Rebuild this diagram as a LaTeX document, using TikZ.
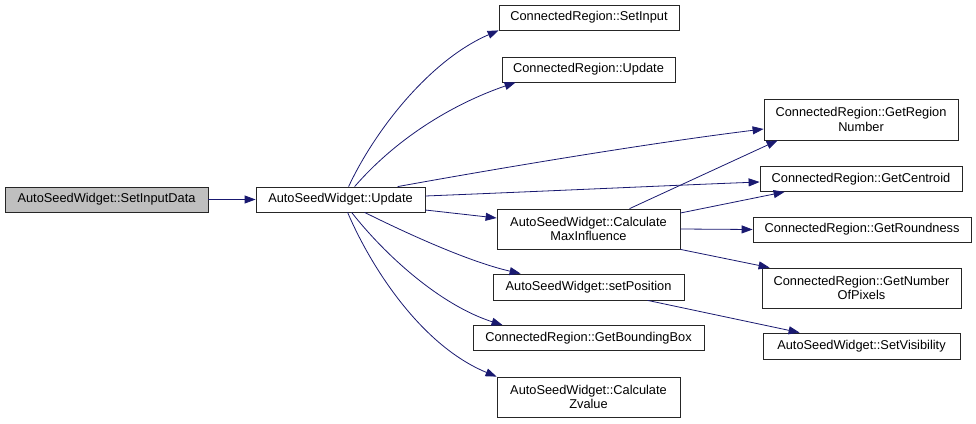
\documentclass[tikz,border=0pt]{standalone}
\usepackage{fontspec}
\setmainfont{Liberation Sans}
\usetikzlibrary{arrows.meta}
\definecolor{callblue}{HTML}{191970}
\definecolor{rootgray}{HTML}{BFBFBF}
\begin{document}
\begin{tikzpicture}[x=1pt, y=-1pt,
    fn/.style={draw=black!85, line width=0.8pt, fill=white, inner sep=0pt, align=center,
      font=\fontsize{12.8}{14.5}\selectfont},
    call/.style={draw=callblue, line width=0.8pt, -{Triangle[length=11pt,width=8pt]}}]
    \useasboundingbox (0,0) rectangle (976,423);

    \node[fn, fill=rootgray, minimum width=203pt, minimum height=25pt] (sid) at (106.5,199.5) {AutoSeedWidget::SetInputData};
    \node[fn, minimum width=169pt, minimum height=25pt] (upd) at (340.5,199.5) {AutoSeedWidget::Update};

    \node[fn, minimum width=180pt, minimum height=25pt] (setin) at (589,17.5) {ConnectedRegion::SetInput};
    \node[fn, minimum width=173pt, minimum height=25pt] (crupd) at (588.5,69.5) {ConnectedRegion::Update};
    \node[fn, minimum width=183pt, minimum height=40pt] (cmi) at (588.5,229) {AutoSeedWidget::Calculate\\MaxInfluence};
    \node[fn, minimum width=191pt, minimum height=26pt] (spos) at (588.5,287) {AutoSeedWidget::setPosition};
    \node[fn, minimum width=231pt, minimum height=25pt] (gbb) at (588.5,338) {ConnectedRegion::GetBoundingBox};
    \node[fn, minimum width=183pt, minimum height=40pt] (czv) at (588.5,397) {AutoSeedWidget::Calculate\\Zvalue};

    \node[fn, minimum width=194pt, minimum height=41pt] (grn) at (861,119.5) {ConnectedRegion::GetRegion\\Number};
    \node[fn, minimum width=202pt, minimum height=25pt] (gcen) at (861,179) {ConnectedRegion::GetCentroid};
    \node[fn, minimum width=218pt, minimum height=25pt] (grnd) at (862,229.5) {ConnectedRegion::GetRoundness};
    \node[fn, minimum width=199pt, minimum height=40pt] (gnop) at (861.5,288) {ConnectedRegion::GetNumber\\OfPixels};
    \node[fn, minimum width=197pt, minimum height=26pt] (svis) at (861.5,346) {AutoSeedWidget::SetVisibility};

    % calls from Update
    \draw[call] (sid.east) -- (upd.west);
    \draw[call] ([xshift=93pt]upd.north west) .. controls (375,130) and (430,60) .. (setin.south west);
    \draw[call] ([xshift=99pt]upd.north west) .. controls (395,140) and (450,105) .. ([xshift=14pt]crupd.south west);
    \draw[call] ([xshift=142pt]upd.north west) .. controls (500,168) and (650,143) .. ([yshift=-9.5pt]grn.west);
    \draw[call] ([yshift=3.5pt]upd.east) .. controls (550,191) and (680,185) .. ([yshift=-3pt]gcen.west);
    \draw[call] ([yshift=-10.5pt]upd.east) -- ([yshift=11pt]cmi.west);
    \draw[call] ([xshift=109pt]upd.south west) .. controls (410,235) and (470,262) .. ([xshift=28pt]spos.north west);
    \draw[call] ([xshift=96pt]upd.south west) .. controls (385,255) and (440,305) .. ([xshift=30pt]gbb.north west);
    \draw[call] ([xshift=92pt]upd.south west) .. controls (370,265) and (420,345) .. (czv.north west);

    % calls from CalculateMaxInfluence and setPosition
    \draw[call] ([xshift=133pt]cmi.north west) -- ([xshift=14pt]grn.south west);
    \draw[call] ([yshift=16pt]cmi.east) -- ([xshift=25pt]gcen.south west);
    \draw[call] (cmi.east) -- (grnd.west);
    \draw[call] (cmi.south east) -- ([xshift=8pt]gnop.north west);
    \draw[call] ([xshift=155pt]spos.south west) -- ([xshift=37pt]svis.north west);
\end{tikzpicture}
\end{document}
